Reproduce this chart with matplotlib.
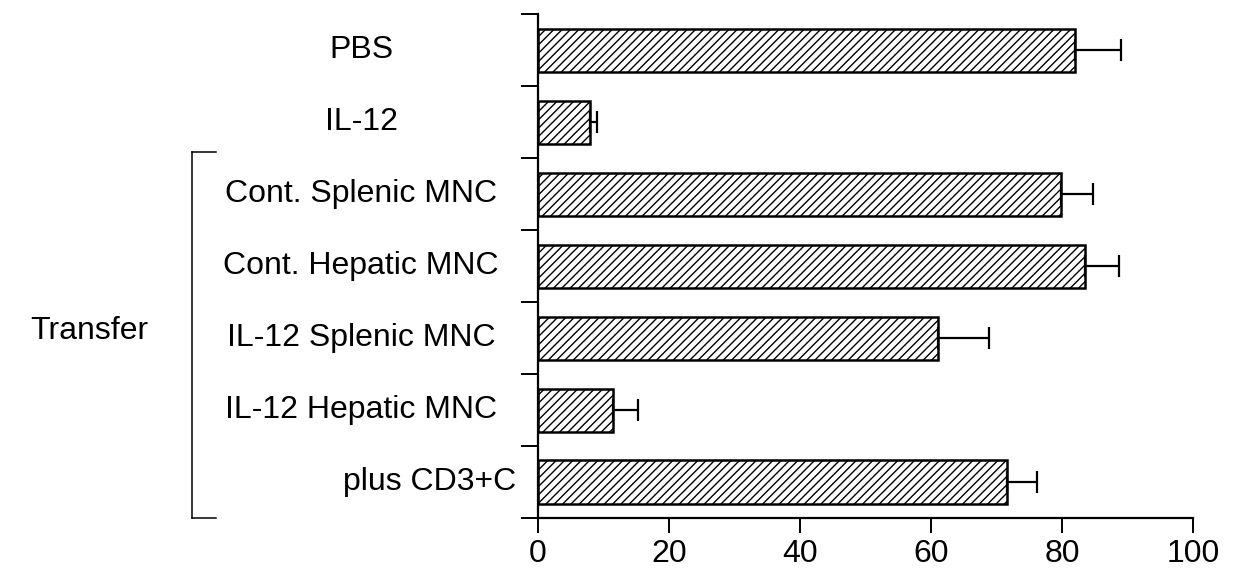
import numpy as np
import matplotlib
matplotlib.use('Agg')
import matplotlib.pyplot as plt
from matplotlib.lines import Line2D
import matplotlib.transforms as mtransforms

plt.rcParams['font.family'] = ['Liberation Sans', 'DejaVu Sans']
plt.rcParams['hatch.linewidth'] = 1.0

# data
groups = ['PBS', 'IL-12', 'Cont. Splenic MNC', 'Cont. Hepatic MNC',
          'IL-12 Splenic MNC', 'IL-12 Hepatic MNC', 'plus CD3+C']
values = [82.0, 8.0, 79.8, 83.5, 61.0, 11.5, 71.6]
errors = [7.0, 1.0, 4.9, 5.2, 7.8, 3.8, 4.6]
xticks = [0, 20, 40, 60, 80, 100]
bracket_label = 'Transfer'

fig = plt.figure(figsize=(12.4, 5.68), dpi=100)
ax = fig.add_axes([538 / 1240, 50 / 568, 655 / 1240, (518 - 14.4) / 568])

pos = np.arange(len(groups))
ax.barh(pos, values, height=0.6, color='white', edgecolor='black',
        linewidth=1.8, hatch='////', zorder=2)
ax.errorbar(values, pos, xerr=[np.zeros(len(errors)), errors], fmt='none',
            ecolor='black', elinewidth=1.6, capsize=8, capthick=1.6, zorder=3)

ax.set_xlim(0, 100)
ax.set_ylim(len(groups) - 0.5, -0.5)
ax.set_xticks(xticks)
ax.set_xticklabels([str(t) for t in xticks], fontsize=23)
ax.set_yticks(np.arange(len(groups) + 1) - 0.5)
ax.set_yticklabels([])
ax.tick_params(axis='x', direction='out', length=11, width=1.4, pad=4)
ax.tick_params(axis='y', direction='out', length=12, width=1.4)

for side in ['top', 'right']:
    ax.spines[side].set_visible(False)
for side in ['left', 'bottom']:
    ax.spines[side].set_linewidth(1.6)

# category labels, drawn by hand like the original
trans = mtransforms.blended_transform_factory(ax.transAxes, ax.transData)
for i, name in enumerate(groups):
    if name == 'plus CD3+C':
        ax.text(-0.033, i, name, transform=trans, ha='right', va='center',
                fontsize=23, clip_on=False)
    else:
        ax.text(-0.27, i, name, transform=trans, ha='center', va='center',
                fontsize=23, clip_on=False)

# bracket for the transfer groups
bx, hook = -0.528, -0.492
top, bottom = 1.41, 6.5
for xs, ys in [([bx, bx], [top, bottom]), ([bx, hook], [top, top]),
               ([bx, hook], [bottom, bottom])]:
    ax.add_artist(Line2D(xs, ys, transform=trans, color='black', lw=1.1,
                         clip_on=False))
ax.text(-0.595, 3.9, bracket_label, transform=trans, ha='right', va='center',
        fontsize=23, clip_on=False)

fig.savefig('out.png', dpi=100)
